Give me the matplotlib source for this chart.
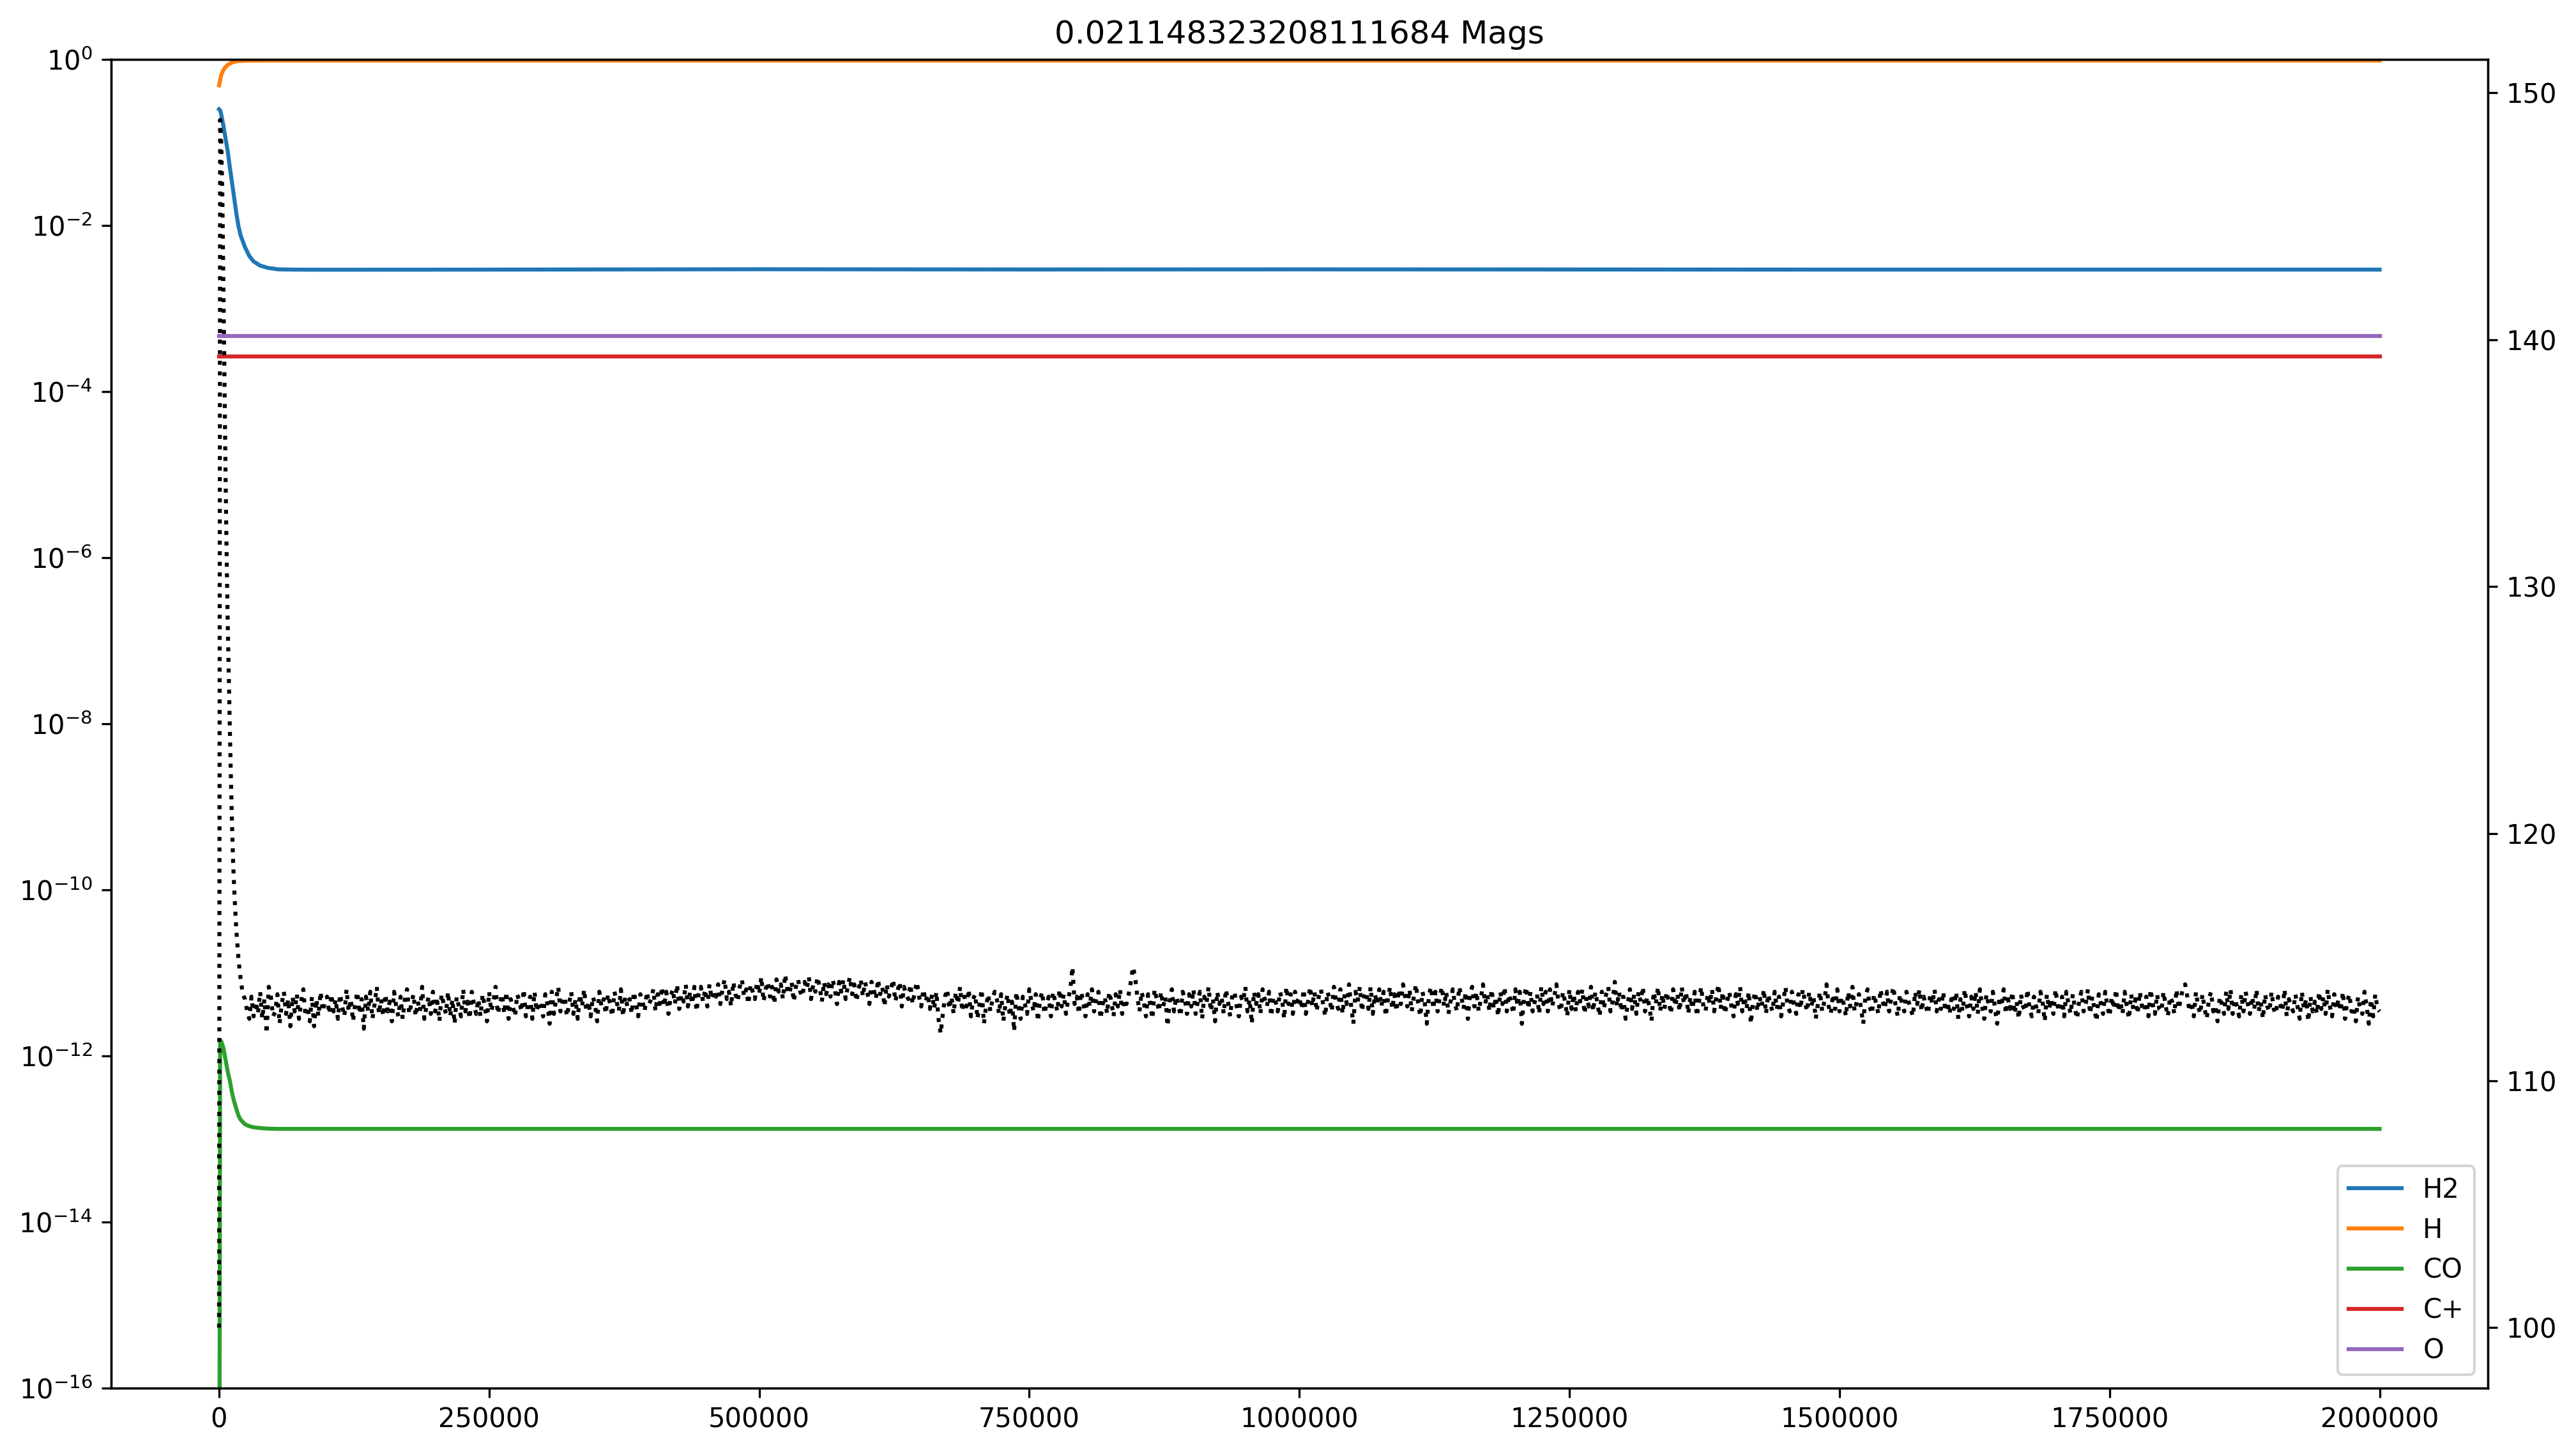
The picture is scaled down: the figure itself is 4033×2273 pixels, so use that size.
import numpy as np
import matplotlib
matplotlib.use("Agg")
import matplotlib.pyplot as plt

# --------------------------
# Data
# --------------------------
title = "0.021148323208111684 Mags"

t_chem = [0, 1000, 2000, 4000, 6000, 8000, 10000, 12000, 14000, 16000, 18000,
          20000, 24000, 28000, 32000, 38000, 45000, 55000, 70000, 100000,
          250000, 500000, 750000, 1000000, 1250000, 1500000, 1750000, 2000000]

h2 = [0.252, 0.245, 0.219, 0.160, 0.112, 0.079, 0.050, 0.033, 0.0215, 0.0140,
      0.0098, 0.0076, 0.0055, 0.0043, 0.0037, 0.0033, 0.0031, 0.00297, 0.00295,
      0.00294, 0.00295, 0.00298, 0.00296, 0.00297, 0.00296, 0.00295, 0.00295, 0.00295]

h = [0.49, 0.56, 0.65, 0.75, 0.81, 0.86, 0.895, 0.92, 0.94, 0.95, 0.957,
     0.962, 0.967, 0.970, 0.972, 0.973, 0.974, 0.974, 0.974, 0.974, 0.974,
     0.974, 0.974, 0.974, 0.974, 0.974, 0.974, 0.974]

co = [1e-20, 1.55e-12, 1.5e-12, 1.25e-12, 9.0e-13, 6.5e-13, 5.0e-13, 3.6e-13,
      2.8e-13, 2.3e-13, 1.9e-13, 1.7e-13, 1.5e-13, 1.42e-13, 1.38e-13, 1.35e-13,
      1.33e-13, 1.32e-13, 1.32e-13, 1.32e-13, 1.32e-13, 1.32e-13, 1.32e-13,
      1.32e-13, 1.32e-13, 1.32e-13, 1.32e-13, 1.32e-13]

t_flat = [0, 2000000]
c_plus = [2.65e-4, 2.65e-4]
o_atom = [4.7e-4, 4.7e-4]

# temperature: fast transient at the start
t_temp_start = [0, 1000, 2000, 3000, 4000, 5000, 6000, 7000, 8000, 9000, 10000,
                11000, 12000, 13000, 14000, 15000, 16000, 17000, 18000, 19000,
                20000, 21000, 22000]
temp_start = [100.0, 148.9, 148.0, 146.0, 142.3, 138.5, 134.6, 131.3, 128.6,
              126.4, 124.2, 122.2, 120.4, 118.9, 117.8, 116.9, 116.1, 115.5,
              114.9, 114.5, 114.1, 113.8, 113.5]

# temperature noise, every 2000 from 24000 to 2000000
temp_a = [  # 24k - 98k
    113.3, 112.8, 112.5, 113.4, 112.6, 113.2, 112.7, 113.6, 112.5, 113.3,
    111.9, 113.8, 113.4, 112.6, 112.8, 113.5, 112.3, 113.1, 113.6, 112.7,
    113.3, 112.2, 113.4, 112.8, 113.5, 112.5, 113.2, 113.7, 112.6, 113.0,
    112.4, 113.4, 112.2, 113.3, 112.6, 113.6, 112.8, 113.2]
temp_b = [  # 100k - 398k
    113.4, 112.7, 113.5, 112.8, 113.3, 112.5, 113.5, 113.0, 112.6, 113.7,
    112.8, 113.3, 112.4, 113.1, 113.6, 112.7, 113.3, 112.1, 113.4, 112.8,
    113.6, 112.5, 113.1, 113.8, 112.7, 113.3, 112.6, 113.5, 112.8, 113.2,
    112.4, 113.6, 113.0, 112.6, 113.4, 112.5, 113.3, 113.7, 112.7, 113.1,
    113.5, 112.6, 113.2, 112.8, 113.8, 112.5, 113.0, 113.4, 112.7, 113.6,
    112.8, 113.2, 112.4, 113.5, 113.1, 112.7, 113.6, 112.6, 113.3, 112.3,
    113.4, 113.0, 112.6, 113.7, 112.8, 113.2, 112.5, 113.6, 113.1, 112.7,
    113.3, 112.6, 113.5, 113.0, 112.4, 113.6, 112.8, 113.2, 113.8, 112.7,
    113.1, 113.5, 112.7, 113.6, 112.5, 113.3, 113.0, 112.6, 113.5, 113.2,
    112.8, 113.7, 112.6, 113.1, 113.4, 112.5, 113.6, 112.8, 113.2, 113.0,
    112.6, 113.5, 113.1, 112.3, 113.6, 112.7, 113.3, 113.8, 112.8, 113.2,
    113.4, 112.6, 113.1, 113.6, 112.7, 113.3, 112.5, 113.5, 113.0, 113.7,
    112.8, 113.2, 112.6, 113.4, 113.1, 112.4, 113.6, 113.0, 113.3, 112.7,
    113.5, 113.1, 112.6, 113.6, 113.2, 112.8, 113.7, 112.6, 113.4, 113.0,
    113.3, 112.7, 113.6, 113.1, 112.6, 113.5, 113.2, 112.8, 113.6, 113.1]
temp_c = [  # 400k - 458k
    113.3, 113.7, 112.8, 113.5, 113.1, 113.8, 113.0, 113.6, 112.7, 113.4,
    113.7, 113.1, 113.9, 112.9, 113.5, 113.2, 113.9, 113.0, 113.6, 113.1,
    113.8, 112.8, 113.5, 113.8, 113.2, 113.7, 113.0, 113.9, 113.3, 113.6]
temp_d = [  # 460k - 658k
    113.4, 113.9, 113.1, 113.7, 114.1, 113.3, 113.6, 113.0, 114.0, 113.5,
    113.2, 113.8, 114.1, 113.4, 113.7, 113.1, 113.9, 113.6, 113.3, 114.0,
    113.5, 114.2, 113.2, 113.7, 114.0, 113.4, 113.8, 113.1, 114.1, 113.6,
    113.9, 113.3, 114.3, 113.7, 113.5, 114.0, 113.2, 113.8, 114.1, 113.6,
    113.4, 114.0, 113.7, 114.2, 113.3, 113.9, 113.6, 114.2, 113.8, 113.2,
    114.0, 113.5, 113.9, 113.4, 114.1, 113.7, 113.1, 114.0, 113.6, 114.1,
    113.3, 113.8, 114.2, 113.5, 113.9, 113.2, 113.7, 114.1, 113.4, 114.0,
    113.6, 113.1, 114.0, 113.7, 113.3, 114.1, 113.5, 113.8, 113.0, 113.9,
    113.4, 113.7, 114.1, 113.2, 113.6, 114.0, 113.0, 113.8, 113.5, 113.3,
    113.9, 113.1, 113.6, 114.0, 113.4, 113.0, 113.7, 113.2, 113.5, 112.9]
temp_e = [  # 660k - 718k
    113.5, 112.9, 113.6, 112.5, 111.9, 112.7, 113.4, 113.7, 112.9, 113.4,
    112.7, 113.6, 113.1, 113.8, 112.8, 113.4, 113.0, 113.7, 112.6, 113.3,
    113.5, 112.5, 113.1, 113.7, 112.3, 113.0, 113.5, 112.8, 113.3, 113.6]
temp_f = [  # 720k - 998k
    113.3, 112.7, 113.5, 112.4, 113.1, 113.5, 112.6, 113.2, 112.0, 113.6,
    113.0, 112.5, 113.4, 113.1, 112.7, 113.7, 113.2, 112.8, 113.5, 112.4,
    113.3, 113.6, 112.7, 113.1, 113.4, 112.6, 113.6, 113.2, 112.8, 113.7,
    113.0, 113.5, 112.7, 113.3, 113.7, 114.6, 113.1, 113.4, 112.7, 113.6,
    113.2, 112.6, 113.5, 113.0, 113.7, 112.8, 113.3, 113.6, 112.5, 113.1,
    113.4, 112.7, 113.6, 113.2, 112.6, 113.5, 113.0, 113.7, 112.7, 113.3,
    113.1, 113.5, 114.0, 114.6, 114.2, 113.4, 112.8, 113.6, 113.2, 112.6,
    113.5, 113.1, 112.5, 113.7, 113.3, 112.8, 113.6, 113.0, 113.4, 112.2,
    113.2, 113.7, 112.8, 113.4, 113.1, 112.6, 113.6, 113.3, 112.7, 113.5,
    113.0, 113.7, 112.7, 113.2, 113.6, 112.5, 113.4, 113.1, 113.8, 112.8,
    113.3, 112.4, 113.6, 113.1, 113.4, 112.7, 113.7, 113.2, 112.6, 113.5,
    113.6, 113.0, 112.6, 113.4, 113.2, 113.8, 112.8, 113.3, 112.3, 113.6,
    113.1, 113.5, 112.7, 113.7, 113.3, 113.0, 113.6, 112.6, 113.4, 113.2,
    112.8, 113.6, 113.3, 112.5, 113.8, 113.1, 113.5, 112.7, 113.6, 113.2]
temp_g = [  # 1000k - 1598k
    113.4, 112.9, 113.7, 112.7, 113.2, 113.8, 113.0, 113.6, 112.8, 113.4,
    113.7, 113.1, 112.6, 113.6, 113.3, 112.8, 113.8, 113.2, 112.9, 113.7,
    112.7, 113.5, 113.1, 113.9, 113.0, 112.3, 113.6, 113.2, 113.8, 112.8,
    113.4, 113.6, 112.9, 113.8, 112.7, 113.5, 113.1, 113.7, 113.0, 113.6,
    112.6, 113.3, 113.8, 112.9, 113.5, 112.8, 113.7, 113.1, 113.9, 113.4,
    113.0, 113.7, 112.8, 113.4, 113.9, 113.1, 112.6, 113.6, 113.2, 112.3,
    113.5, 113.8, 112.9, 113.6, 112.8, 113.4, 113.8, 113.0, 113.6, 112.7,
    113.2, 113.7, 113.1, 112.8, 113.8, 113.4, 112.9, 113.6, 112.5, 113.5,
    113.8, 113.0, 113.6, 112.8, 113.3, 113.9, 113.1, 113.5, 112.8, 113.7,
    112.9, 113.4, 112.6, 113.6, 113.1, 113.8, 112.8, 113.5, 113.2, 112.7,
    113.7, 113.0, 113.6, 112.3, 113.4, 113.8, 112.9, 113.6, 112.8, 113.2,
    113.5, 112.7, 113.8, 113.1, 113.6, 112.8, 113.7, 113.0, 113.4, 113.9,
    113.1, 112.8, 113.6, 113.2, 112.6, 113.7, 112.9, 113.5, 112.8, 113.6,
    113.2, 113.7, 112.7, 113.4, 113.0, 113.8, 112.8, 113.6, 113.1, 112.6,
    113.6, 112.9, 113.5, 113.8, 112.8, 113.2, 114.0, 113.0, 113.6, 112.8,
    113.4, 112.5, 113.1, 113.7, 112.9, 113.5, 112.7, 113.6, 113.2, 113.8,
    112.8, 113.4, 113.0, 112.4, 113.6, 113.1, 113.8, 112.8, 113.5, 112.9,
    113.6, 113.2, 112.7, 113.7, 113.0, 113.5, 112.8, 113.8, 113.1, 113.6,
    112.7, 113.4, 112.9, 113.6, 112.6, 113.2, 113.8, 113.0, 112.8, 113.5,
    113.1, 113.7, 112.8, 113.4, 113.9, 112.9, 113.6, 112.7, 113.2, 113.6,
    113.0, 112.6, 113.5, 113.1, 113.8, 112.8, 113.4, 112.9, 113.6, 112.3,
    113.2, 113.6, 112.8, 113.4, 113.0, 113.7, 112.7, 113.5, 113.1, 112.8,
    113.6, 112.9, 113.4, 112.6, 113.2, 113.8, 113.0, 112.8, 113.6, 113.1,
    112.7, 113.5, 112.9, 113.7, 113.2, 112.8, 113.6, 113.0, 113.4, 112.5,
    113.1, 113.6, 112.8, 113.2, 113.9, 113.0, 112.7, 113.5, 112.9, 113.7,
    112.8, 113.4, 113.1, 112.6, 113.6, 113.0, 113.8, 112.8, 113.2, 113.5,
    112.9, 112.3, 113.4, 113.7, 113.0, 112.7, 113.5, 113.1, 112.7, 113.7,
    113.2, 112.9, 113.6, 112.8, 113.4, 113.8, 113.0, 112.6, 113.5, 113.1,
    112.8, 113.6, 113.2, 112.9, 112.6, 113.6, 113.1, 113.7, 112.8, 113.4,
    113.0, 112.7, 113.5, 113.1, 113.7, 112.8, 113.3, 112.9, 113.6, 112.8]
temp_h = [  # 1600k - 2000k
    113.2, 112.7, 113.5, 112.9, 113.6, 112.5, 113.3, 112.8, 113.7, 113.0,
    112.6, 113.4, 112.9, 113.6, 112.7, 113.7, 113.0, 112.5, 113.5, 113.1,
    112.8, 113.6, 112.9, 112.3, 113.4, 113.0, 113.7, 112.7, 113.3, 112.9,
    113.6, 112.7, 113.2, 112.5, 113.5, 113.0, 112.8, 113.7, 112.9, 112.6,
    113.4, 113.0, 112.7, 113.6, 113.2, 112.4, 113.5, 112.9, 113.3, 112.7,
    113.7, 113.0, 112.8, 113.4, 112.6, 113.6, 113.1, 112.7, 113.5, 112.9,
    112.5, 113.3, 113.6, 112.8, 113.1, 113.7, 112.7, 113.4, 112.9, 112.4,
    113.5, 113.1, 112.7, 113.6, 113.0, 112.6, 113.4, 112.9, 113.7, 112.8,
    113.2, 112.7, 113.6, 113.0, 112.5, 113.5, 112.9, 113.3, 112.7, 113.6,
    113.0, 112.8, 113.4, 112.6, 113.7, 113.1, 112.7, 113.5, 112.9, 112.8,
    113.6, 113.0, 112.6, 113.4, 113.2, 112.7, 113.7, 112.9, 113.3, 113.8,
    113.9, 113.4, 112.8, 113.2, 112.6, 113.6, 113.0, 112.7, 113.5, 112.9,
    112.5, 113.3, 113.6, 112.8, 113.0, 112.4, 113.4, 113.1, 112.7, 113.6,
    112.9, 113.7, 112.7, 113.3, 113.0, 112.6, 113.5, 112.8, 113.6, 113.1,
    112.7, 113.4, 112.9, 113.7, 112.8, 113.2, 112.5, 113.5, 113.0, 112.8,
    113.6, 112.9, 112.7, 113.4, 113.1, 112.8, 113.7, 112.6, 113.3, 113.0,
    112.8, 113.5, 113.0, 112.5, 113.6, 112.9, 113.3, 112.4, 113.4, 112.8,
    113.2, 112.7, 113.6, 112.9, 113.4, 112.7, 113.7, 113.0, 112.6, 113.5,
    112.9, 113.3, 112.8, 113.6, 112.5, 113.2, 113.5, 112.8, 113.0, 112.4,
    113.4, 112.9, 112.7, 113.6, 113.0, 112.3, 113.3, 112.6, 113.5, 112.9,
    112.8]

# --------------------------
# Assemble the temperature series
# --------------------------
temp_noise = temp_a + temp_b + temp_c + temp_d + temp_e + temp_f + temp_g + temp_h
t_noise = np.arange(24000, 2000001, 2000)
t_temp = np.concatenate([t_temp_start, t_noise[:len(temp_noise)]])
temp = np.concatenate([temp_start, temp_noise])

# --------------------------
# Plot
# --------------------------
fig = plt.figure(figsize=(4033 / 300, 2273 / 300), dpi=300)
ax = fig.add_subplot(111)
fig.subplots_adjust(left=0.0431, right=0.9657, bottom=0.0441, top=0.959)

ax.plot(t_chem, h2, label="H2")
ax.plot(t_chem, h, label="H")
ax.plot(t_chem, co, label="CO")
ax.plot(t_flat, c_plus, label="C+")
ax.plot(t_flat, o_atom, label="O")
ax.set_yscale("log")
ax.set_ylim(1e-16, 1e0)
ax.set_xlim(-100000, 2100000)
ax.ticklabel_format(axis="x", style="plain")
ax.set_title(title)
ax.legend(loc="lower right")

ax2 = ax.twinx()
ax2.plot(t_temp, temp, "k:")

fig.savefig("out.png", dpi=300)
